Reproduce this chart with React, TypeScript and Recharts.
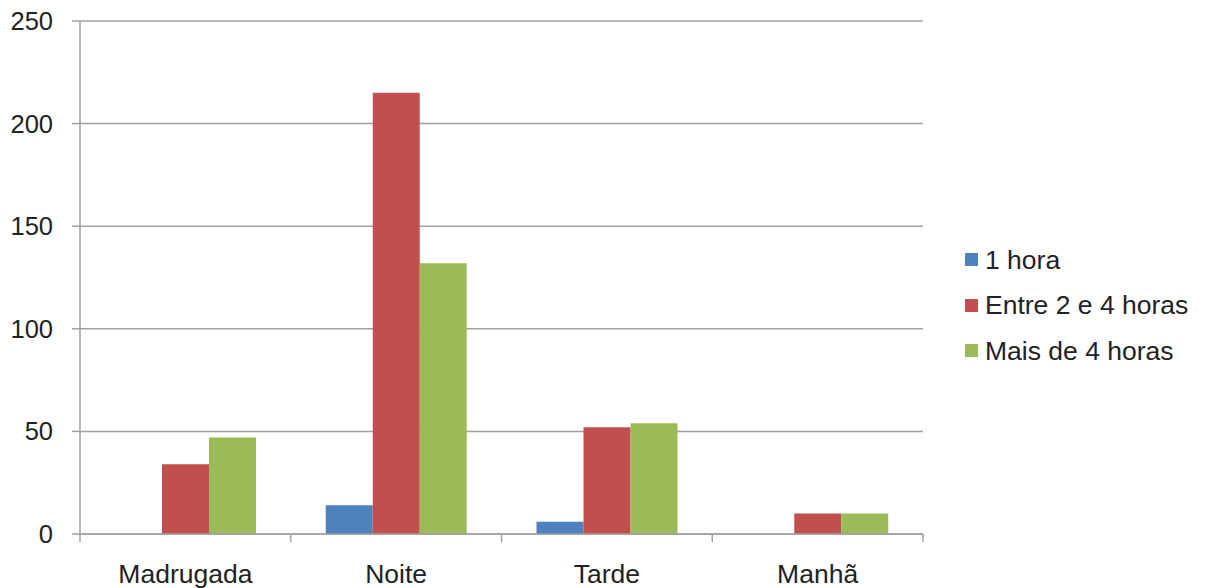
import React from 'react'
import { BarChart, Bar, XAxis, YAxis, CartesianGrid } from 'recharts'

const periodos = ['Madrugada', 'Noite', 'Tarde', 'Manhã']
const umaHora = [0, 14, 6, 0]
const entre2e4 = [34, 215, 52, 10]
const maisDe4 = [47, 132, 54, 10]
const yTicks = [0, 50, 100, 150, 200, 250]

const series = [
  { key: 'umaHora', name: '1 hora', color: '#4F81BD' },
  { key: 'entre2e4', name: 'Entre 2 e 4 horas', color: '#C0504D' },
  { key: 'maisDe4', name: 'Mais de 4 horas', color: '#9BBB59' },
]

const data = periodos.map((periodo, i) => ({
  periodo,
  umaHora: umaHora[i],
  entre2e4: entre2e4[i],
  maisDe4: maisDe4[i],
}))

const W = 1205
const H = 588
const LEFT = 80
const RIGHT = 282
const TOP = 21
const XAXIS_H = 54
const FONT = '"Liberation Sans", Arial, sans-serif'
const AXIS = '#a0a0a0'
const band = (W - LEFT - RIGHT) / periodos.length

function CategoryTick(props: any) {
  const { x, y, payload, index } = props
  const axisY = y - 30
  const left = x - band / 2
  return (
    <g>
      <line x1={left} y1={axisY} x2={left} y2={axisY + 8} stroke={AXIS} strokeWidth={1.5} />
      {index === periodos.length - 1 && (
        <line x1={left + band} y1={axisY} x2={left + band} y2={axisY + 8} stroke={AXIS} strokeWidth={1.5} />
      )}
      <text x={x} y={y} dy="0.71em" textAnchor="middle" fontSize={26.5} fill="#222" fontFamily={FONT}>
        {payload.value}
      </text>
    </g>
  )
}

export default function App() {
  return (
    <div style={{ position: 'absolute', left: 0, top: 0, width: W, height: H, background: '#fff', fontFamily: FONT }}>
      <BarChart
        width={W}
        height={H}
        data={data}
        margin={{ top: TOP, right: RIGHT, bottom: 0, left: 0 }}
        barCategoryGap={35}
        barGap={0}
      >
        <CartesianGrid vertical={false} stroke={AXIS} strokeWidth={1.5} />
        <XAxis
          dataKey="periodo"
          height={XAXIS_H}
          stroke={AXIS}
          strokeWidth={1.5}
          tickLine={false}
          tickSize={8}
          tickMargin={22}
          tick={<CategoryTick />}
          interval={0}
        />
        <YAxis
          width={LEFT}
          domain={[0, 250]}
          ticks={yTicks}
          stroke={AXIS}
          strokeWidth={1.5}
          tickSize={8}
          tickMargin={19}
          tick={{ fontSize: 25.5, fill: '#222', fontFamily: FONT }}
        />
        {series.map((s) => (
          <Bar key={s.key} dataKey={s.key} name={s.name} fill={s.color} isAnimationActive={false} />
        ))}
      </BarChart>
      <div style={{ position: 'absolute', left: 965, top: 237 }}>
        {series.map((s) => (
          <div key={s.key} style={{ display: 'flex', alignItems: 'center', height: 45.5 }}>
            <span style={{ width: 13, height: 13, background: s.color, display: 'inline-block', marginRight: 7 }} />
            <span style={{ fontSize: 26.5, color: '#222', lineHeight: 1 }}>{s.name}</span>
          </div>
        ))}
      </div>
    </div>
  )
}
